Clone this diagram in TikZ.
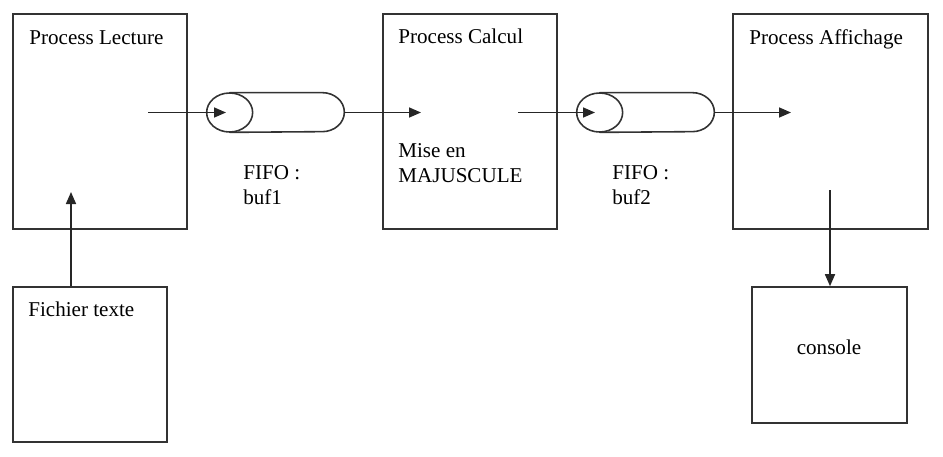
\documentclass[tikz,border=0pt]{standalone}
\usepackage{fontspec}
\setmainfont{Liberation Serif}
\usetikzlibrary{arrows.meta}

\begin{document}
\begin{tikzpicture}[
    font=\fontsize{12}{14.2}\selectfont,
    proc/.style={rectangle, draw=black!80, line width=0.9pt, inner sep=0pt},
    fifo/.style={rectangle, minimum width=2.74cm, minimum height=0.78cm, inner sep=0pt},
    pipe/.style={draw=black!80, line width=0.9pt},
    txt/.style={anchor=base west, inner sep=0pt, align=left},
    flow/.style={-{Triangle[length=0.24cm, width=0.2cm]}, line width=0.9pt, black!85}
]
    \useasboundingbox (0,0) rectangle (18.86,-9.12);
    % Processes
    \node[proc, minimum width=3.48cm, minimum height=4.3cm] (lecture) at (2.0,-2.43) {};
    \node[proc, minimum width=3.48cm, minimum height=4.3cm] (calcul) at (9.4,-2.43) {};
    \node[proc, minimum width=3.9cm, minimum height=4.3cm] (affichage) at (16.61,-2.43) {};
    % Input and output
    \node[proc, minimum width=3.08cm, minimum height=3.1cm] (fichier) at (1.8,-7.29) {};
    \node[proc, minimum width=3.1cm, minimum height=2.72cm] (console) at (16.59,-7.1) {};
    % FIFOs
    \node[fifo] (buf1) at (5.51,-2.25) {};
    \node[fifo] (buf2) at (12.91,-2.25) {};
    \foreach \b in {buf1,buf2} {
        \draw[pipe] ([xshift=0.46cm]\b.north west) -- ([xshift=-0.44cm]\b.north east)
            arc[start angle=90, end angle=-90, x radius=0.44cm, y radius=0.39cm]
            -- ([xshift=0.46cm]\b.south west);
        \draw[pipe] ([xshift=0.46cm]\b.west) ellipse[x radius=0.46cm, y radius=0.39cm];
    }
    % Labels
    \node[txt] (tLecture) at (0.58,-0.88) {Process Lecture};
    \node[txt] (tCalcul) at (7.96,-0.86) {Process Calcul};
    \node[txt] (tAffichage) at (14.98,-0.88) {Process Affichage};
    \node[txt] (tFichier) at (0.56,-6.32) {Fichier texte};
    \node[txt] (tMaj) at (7.96,-3.64) {Mise en\\MAJUSCULE};
    \node[txt] (tBuf1) at (4.86,-4.08) {FIFO :\\buf1};
    \node[txt] (tBuf2) at (12.24,-4.08) {FIFO :\\buf2};
    \node[anchor=base, inner sep=0pt] (tConsole) at (16.58,-7.08) {console};
    % Free ends
    \coordinate (lectOut) at (2.96,-2.25);
    \coordinate (buf1In) at (4.52,-2.25);
    \coordinate (calcIn) at (8.42,-2.25);
    \coordinate (calcOut) at (10.36,-2.25);
    \coordinate (buf2In) at (11.9,-2.25);
    \coordinate (affIn) at (15.82,-2.25);
    \coordinate (lectIn) at (1.42,-3.84);
    \coordinate (affOut) at (16.6,-3.8);
    % Flows
    \draw[flow] (lectOut) -- (buf1In);
    \draw[flow] (buf1.east) -- (calcIn);
    \draw[flow] (calcOut) -- (buf2In);
    \draw[flow] (buf2.east) -- (affIn);
    \draw[flow] (fichier.north -| lectIn) -- (lectIn);
    \draw[flow] (affOut) -- (affOut |- console.north);
\end{tikzpicture}
\end{document}
